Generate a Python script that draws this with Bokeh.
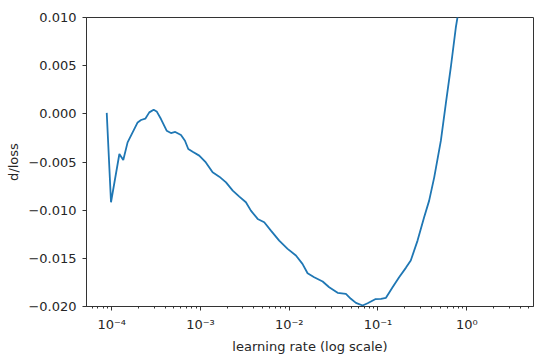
from bokeh.plotting import figure
from bokeh.models import FixedTicker, CustomJSTickFormatter, Range1d
from bokeh.embed import file_html
from bokeh.resources import INLINE

# learning rate (log scale) and derivative of loss
lr = [8.79e-5, 9.82e-5, 1.22e-4, 1.35e-4, 1.51e-4, 1.96e-4, 2.14e-4, 2.39e-4,
      2.65e-4, 2.97e-4, 3.21e-4, 3.59e-4, 4.16e-4, 4.65e-4, 5.20e-4, 6.03e-4,
      6.69e-4, 7.29e-4, 8.17e-4, 9.69e-4, 1.15e-3, 1.37e-3, 1.63e-3, 1.94e-3,
      2.31e-3, 2.74e-3, 3.25e-3, 3.70e-3, 4.41e-3, 5.23e-3, 6.22e-3, 7.71e-3,
      9.59e-3, 1.19e-2, 1.41e-2, 1.61e-2, 1.91e-2, 2.38e-2, 2.82e-2, 3.51e-2,
      4.35e-2, 4.95e-2, 5.64e-2, 6.71e-2, 7.64e-2, 9.30e-2, 0.108, 0.123,
      0.146, 0.173, 0.206, 0.234, 0.279, 0.331, 0.377, 0.430, 0.511, 0.581,
      0.661, 0.753, 0.809, 0.900]
dloss = [0.0001, -0.00918, -0.00417, -0.00479, -0.00296, -0.00089, -0.00064, -0.00050,
         0.00015, 0.00043, 0.00025, -0.00054, -0.00175, -0.00199, -0.00188, -0.00220,
         -0.00279, -0.00365, -0.00393, -0.00434, -0.00504, -0.00607, -0.00652, -0.00711,
         -0.00797, -0.00859, -0.00918, -0.01005, -0.01091, -0.01126, -0.01212, -0.01316,
         -0.01402, -0.01471, -0.01557, -0.01655, -0.01696, -0.01741, -0.01800, -0.01858,
         -0.01868, -0.01920, -0.01962, -0.01990, -0.01966, -0.01924, -0.01920, -0.01910,
         -0.01800, -0.01696, -0.01599, -0.01523, -0.01316, -0.01074, -0.00901, -0.00659,
         -0.00279, 0.00105, 0.00481, 0.00896, 0.0107, 0.0138]

x_major = [1e-4, 1e-3, 1e-2, 1e-1, 1e0]
x_minor = [m * 10.0 ** k for k in range(-5, 1) for m in range(2, 10)]
y_major = [-0.020, -0.015, -0.010, -0.005, 0.000, 0.005, 0.010]

FONT = "DejaVu Sans"
TXT = "#262626"

p = figure(width=544, height=357, x_axis_type="log",
           x_range=Range1d(10 ** -4.284, 10 ** 0.752),
           y_range=Range1d(-0.020, 0.010),
           output_backend="svg", toolbar_location=None,
           min_border_left=86, min_border_right=11,
           min_border_top=17, min_border_bottom=51)

p.line(lr, dloss, line_color="#1f77b4", line_width=1.8)

p.grid.visible = False
p.outline_line_color = "#333333"
p.outline_line_width = 1
p.background_fill_color = "white"
p.border_fill_color = "white"

xa = p.xaxis[0]
xa.ticker = FixedTicker(ticks=x_major, minor_ticks=x_minor)
xa.formatter = CustomJSTickFormatter(code="""
const sup = {'-':'\u207b','0':'\u2070','1':'\u00b9','2':'\u00b2','3':'\u00b3','4':'\u2074','5':'\u2075','6':'\u2076','7':'\u2077','8':'\u2078','9':'\u2079'};
const e = Math.round(Math.log10(tick)).toString();
let s = '10';
for (const c of e) s += sup[c];
return s;
""")
xa.axis_label = "learning rate (log scale)"

ya = p.yaxis[0]
ya.ticker = FixedTicker(ticks=y_major)
ya.formatter = CustomJSTickFormatter(code="""
const v = Math.abs(tick) < 1e-12 ? 0 : tick;
return (v < 0 ? '\u2212' : '') + Math.abs(v).toFixed(3);
""")
ya.axis_label = "d/loss"

for ax in (xa, ya):
    ax.axis_line_color = "#333333"
    ax.major_tick_line_color = "#333333"
    ax.minor_tick_line_color = "#333333"
    ax.major_tick_in = 0
    ax.major_tick_out = 4
    ax.minor_tick_in = 0
    ax.minor_tick_out = 2
    ax.major_label_text_font = FONT
    ax.major_label_text_font_size = "13px"
    ax.major_label_text_color = TXT
    ax.axis_label_text_font = FONT
    ax.axis_label_text_font_size = "13px"
    ax.axis_label_text_font_style = "normal"
    ax.axis_label_text_color = TXT

ya.minor_tick_out = 0
xa.major_label_standoff = 6
xa.axis_label_standoff = 4
ya.major_label_standoff = 6
ya.axis_label_standoff = 4

open("out.html", "w").write(file_html(p, INLINE))
